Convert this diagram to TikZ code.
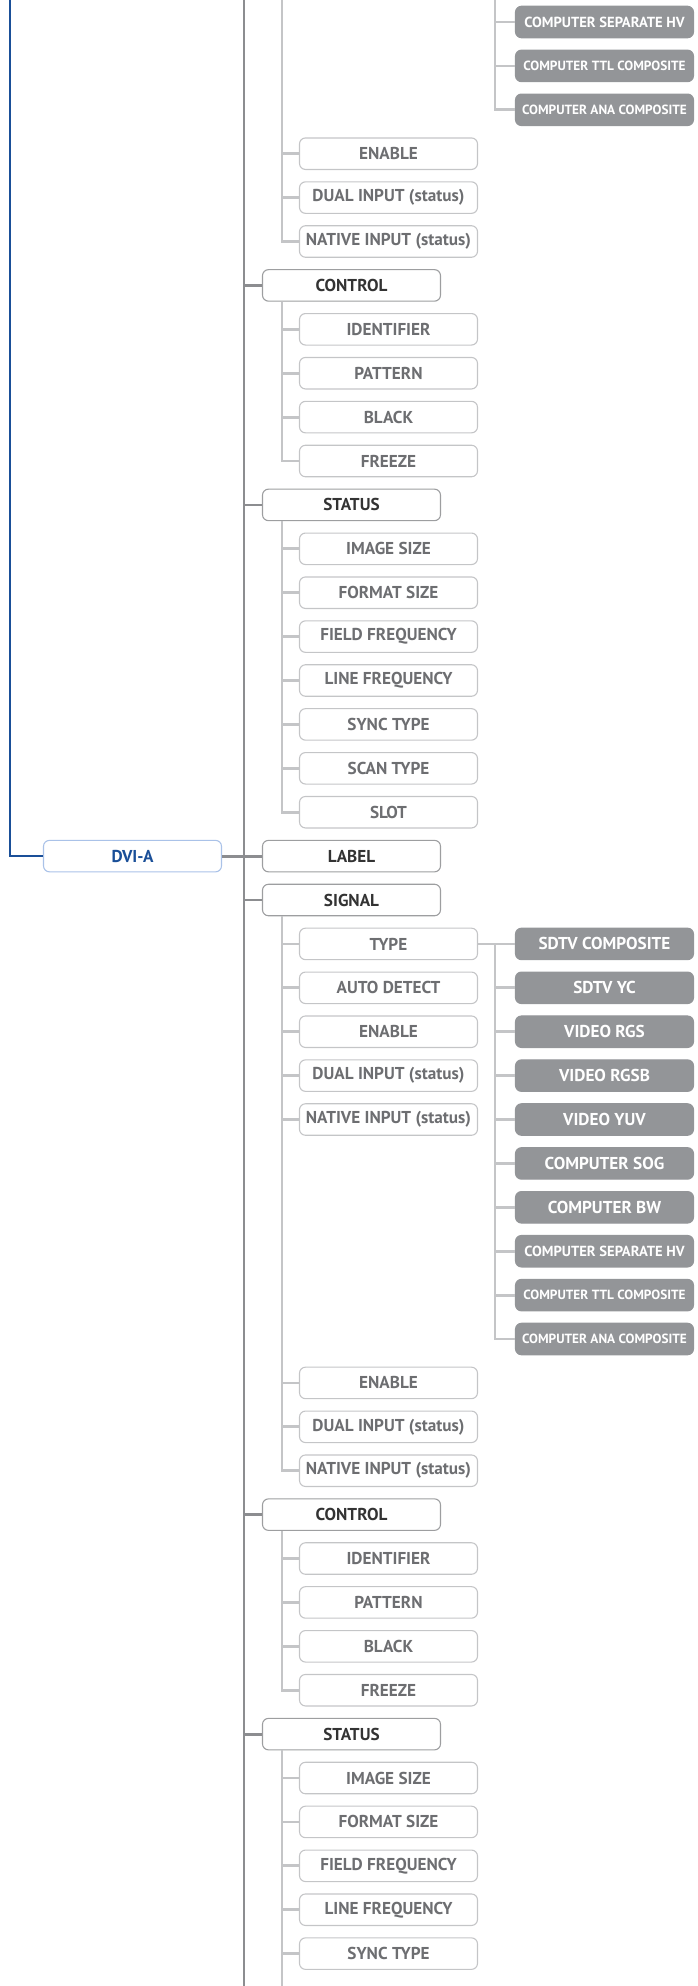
\documentclass[tikz,border=0pt]{standalone}
\usepackage{fontspec}
\setmainfont{PT Sans}
\definecolor{trunkgray}{HTML}{8C8D90}
\definecolor{branchgray}{HTML}{C4C5C7}
\definecolor{leafgray}{HTML}{939598}
\definecolor{textgray}{HTML}{6D6E71}
\definecolor{boxgray}{HTML}{9D9EA0}
\definecolor{navy}{HTML}{1A4F98}
\definecolor{paleblue}{HTML}{AAC2E8}
\newcommand{\rowy}[1]{22+43.9*#1}
\begin{document}
\begin{tikzpicture}[x=1pt,y=-1pt,
  box/.style={draw,rounded corners=6pt,minimum width=178pt,minimum height=31.5pt,
    inner sep=0pt,line width=1.1pt,font=\bfseries\fontsize{17.2}{19}\selectfont},
  topbox/.style={box,draw=boxgray,text=black!80},
  subbox/.style={box,draw=branchgray,text=textgray},
  leafbox/.style={box,draw=leafgray,fill=leafgray,text=white},
  rootbox/.style={box,draw=paleblue,text=navy},
  mainline/.style={draw=trunkgray,line width=2.8pt},
  subline/.style={draw=branchgray,line width=2.8pt},
  blueline/.style={draw=navy,line width=2.5pt}]
  \useasboundingbox (0,0) rectangle (697,1986);
  \coordinate (b0) at (10,0);
  \coordinate (m0) at (244,0);
  \coordinate (m1) at (244,1986);
  \coordinate (s0) at (282,0);
  \coordinate (k0) at (495,0);

  % rest of the previous input
  \node[leafbox,font=\bfseries\fontsize{14.6}{16}\selectfont] (hv0) at (604.5,{\rowy{0}}) {COMPUTER SEPARATE HV};
  \node[leafbox,font=\bfseries\fontsize{13.3}{15}\selectfont] (ttl0) at (604.5,{\rowy{1}}) {COMPUTER TTL COMPOSITE};
  \node[leafbox,font=\bfseries\fontsize{13.3}{15}\selectfont] (ana0) at (604.5,{\rowy{2}}) {COMPUTER ANA COMPOSITE};
  \node[subbox] (en0) at (388.5,{\rowy{3}}) {ENABLE};
  \node[subbox] (dual0) at (388.5,{\rowy{4}}) {DUAL INPUT (status)};
  \node[subbox] (nat0) at (388.5,{\rowy{5}}) {NATIVE INPUT (status)};
  \node[topbox] (ctl0) at (351.5,{\rowy{6}}) {CONTROL};
  \node[subbox] (id0) at (388.5,{\rowy{7}}) {IDENTIFIER};
  \node[subbox] (pat0) at (388.5,{\rowy{8}}) {PATTERN};
  \node[subbox] (blk0) at (388.5,{\rowy{9}}) {BLACK};
  \node[subbox] (frz0) at (388.5,{\rowy{10}}) {FREEZE};
  \node[topbox] (sta0) at (351.5,{\rowy{11}}) {STATUS};
  \node[subbox] (img0) at (388.5,{\rowy{12}}) {IMAGE SIZE};
  \node[subbox] (fmt0) at (388.5,{\rowy{13}}) {FORMAT SIZE};
  \node[subbox] (fld0) at (388.5,{\rowy{14}}) {FIELD FREQUENCY};
  \node[subbox] (lin0) at (388.5,{\rowy{15}}) {LINE FREQUENCY};
  \node[subbox] (syn0) at (388.5,{\rowy{16}}) {SYNC TYPE};
  \node[subbox] (scn0) at (388.5,{\rowy{17}}) {SCAN TYPE};
  \node[subbox] (slot0) at (388.5,{\rowy{18}}) {SLOT};

  % DVI-A input
  \node[rootbox] (dvi) at (132.5,{\rowy{19}}) {DVI-A};
  \node[topbox] (lab) at (351.5,{\rowy{19}}) {LABEL};
  \node[topbox] (sig) at (351.5,{\rowy{20}}) {SIGNAL};
  \node[subbox] (typ) at (388.5,{\rowy{21}}) {TYPE};
  \node[subbox] (auto) at (388.5,{\rowy{22}}) {AUTO DETECT};
  \node[subbox] (en1) at (388.5,{\rowy{23}}) {ENABLE};
  \node[subbox] (dual1) at (388.5,{\rowy{24}}) {DUAL INPUT (status)};
  \node[subbox] (nat1) at (388.5,{\rowy{25}}) {NATIVE INPUT (status)};
  \node[leafbox] (sdc) at (604.5,{\rowy{21}}) {SDTV COMPOSITE};
  \node[leafbox] (yc) at (604.5,{\rowy{22}}) {SDTV YC};
  \node[leafbox] (rgs) at (604.5,{\rowy{23}}) {VIDEO RGS};
  \node[leafbox] (rgsb) at (604.5,{\rowy{24}}) {VIDEO RGSB};
  \node[leafbox] (yuv) at (604.5,{\rowy{25}}) {VIDEO YUV};
  \node[leafbox] (sog) at (604.5,{\rowy{26}}) {COMPUTER SOG};
  \node[leafbox] (bw) at (604.5,{\rowy{27}}) {COMPUTER BW};
  \node[leafbox,font=\bfseries\fontsize{14.6}{16}\selectfont] (hv1) at (604.5,{\rowy{28}}) {COMPUTER SEPARATE HV};
  \node[leafbox,font=\bfseries\fontsize{13.3}{15}\selectfont] (ttl1) at (604.5,{\rowy{29}}) {COMPUTER TTL COMPOSITE};
  \node[leafbox,font=\bfseries\fontsize{13.3}{15}\selectfont] (ana1) at (604.5,{\rowy{30}}) {COMPUTER ANA COMPOSITE};
  \node[subbox] (en2) at (388.5,{\rowy{31}}) {ENABLE};
  \node[subbox] (dual2) at (388.5,{\rowy{32}}) {DUAL INPUT (status)};
  \node[subbox] (nat2) at (388.5,{\rowy{33}}) {NATIVE INPUT (status)};
  \node[topbox] (ctl1) at (351.5,{\rowy{34}}) {CONTROL};
  \node[subbox] (id1) at (388.5,{\rowy{35}}) {IDENTIFIER};
  \node[subbox] (pat1) at (388.5,{\rowy{36}}) {PATTERN};
  \node[subbox] (blk1) at (388.5,{\rowy{37}}) {BLACK};
  \node[subbox] (frz1) at (388.5,{\rowy{38}}) {FREEZE};
  \node[topbox] (sta1) at (351.5,{\rowy{39}}) {STATUS};
  \node[subbox] (img1) at (388.5,{\rowy{40}}) {IMAGE SIZE};
  \node[subbox] (fmt1) at (388.5,{\rowy{41}}) {FORMAT SIZE};
  \node[subbox] (fld1) at (388.5,{\rowy{42}}) {FIELD FREQUENCY};
  \node[subbox] (lin1) at (388.5,{\rowy{43}}) {LINE FREQUENCY};
  \node[subbox] (syn1) at (388.5,{\rowy{44}}) {SYNC TYPE};

  % connectors
  \draw[blueline] (b0) |- (dvi);
  \draw[mainline] (m0) -- (m1);
  \draw[mainline] (dvi) -- (lab);
  \foreach \n in {ctl0,sta0,sig,ctl1,sta1}
    \draw[mainline] (m0) |- (\n);
  \foreach \n in {en0,dual0,nat0}
    \draw[subline] (s0) |- (\n);
  \foreach \n in {id0,pat0,blk0,frz0}
    \draw[subline] (s0 |- ctl0.south) |- (\n);
  \foreach \n in {img0,fmt0,fld0,lin0,syn0,scn0,slot0}
    \draw[subline] (s0 |- sta0.south) |- (\n);
  \foreach \n in {typ,auto,en1,dual1,nat1,en2,dual2,nat2}
    \draw[subline] (s0 |- sig.south) |- (\n);
  \foreach \n in {id1,pat1,blk1,frz1}
    \draw[subline] (s0 |- ctl1.south) |- (\n);
  \foreach \n in {img1,fmt1,fld1,lin1,syn1}
    \draw[subline] (s0 |- sta1.south) |- (\n);
  \draw[subline] (s0 |- sta1.south) -- (s0 |- m1);
  \foreach \n in {hv0,ttl0,ana0}
    \draw[subline] (k0) |- (\n);
  \draw[subline] (typ) -- (sdc);
  \foreach \n in {yc,rgs,rgsb,yuv,sog,bw,hv1,ttl1,ana1}
    \draw[subline] (k0 |- typ) |- (\n);
\end{tikzpicture}
\end{document}
